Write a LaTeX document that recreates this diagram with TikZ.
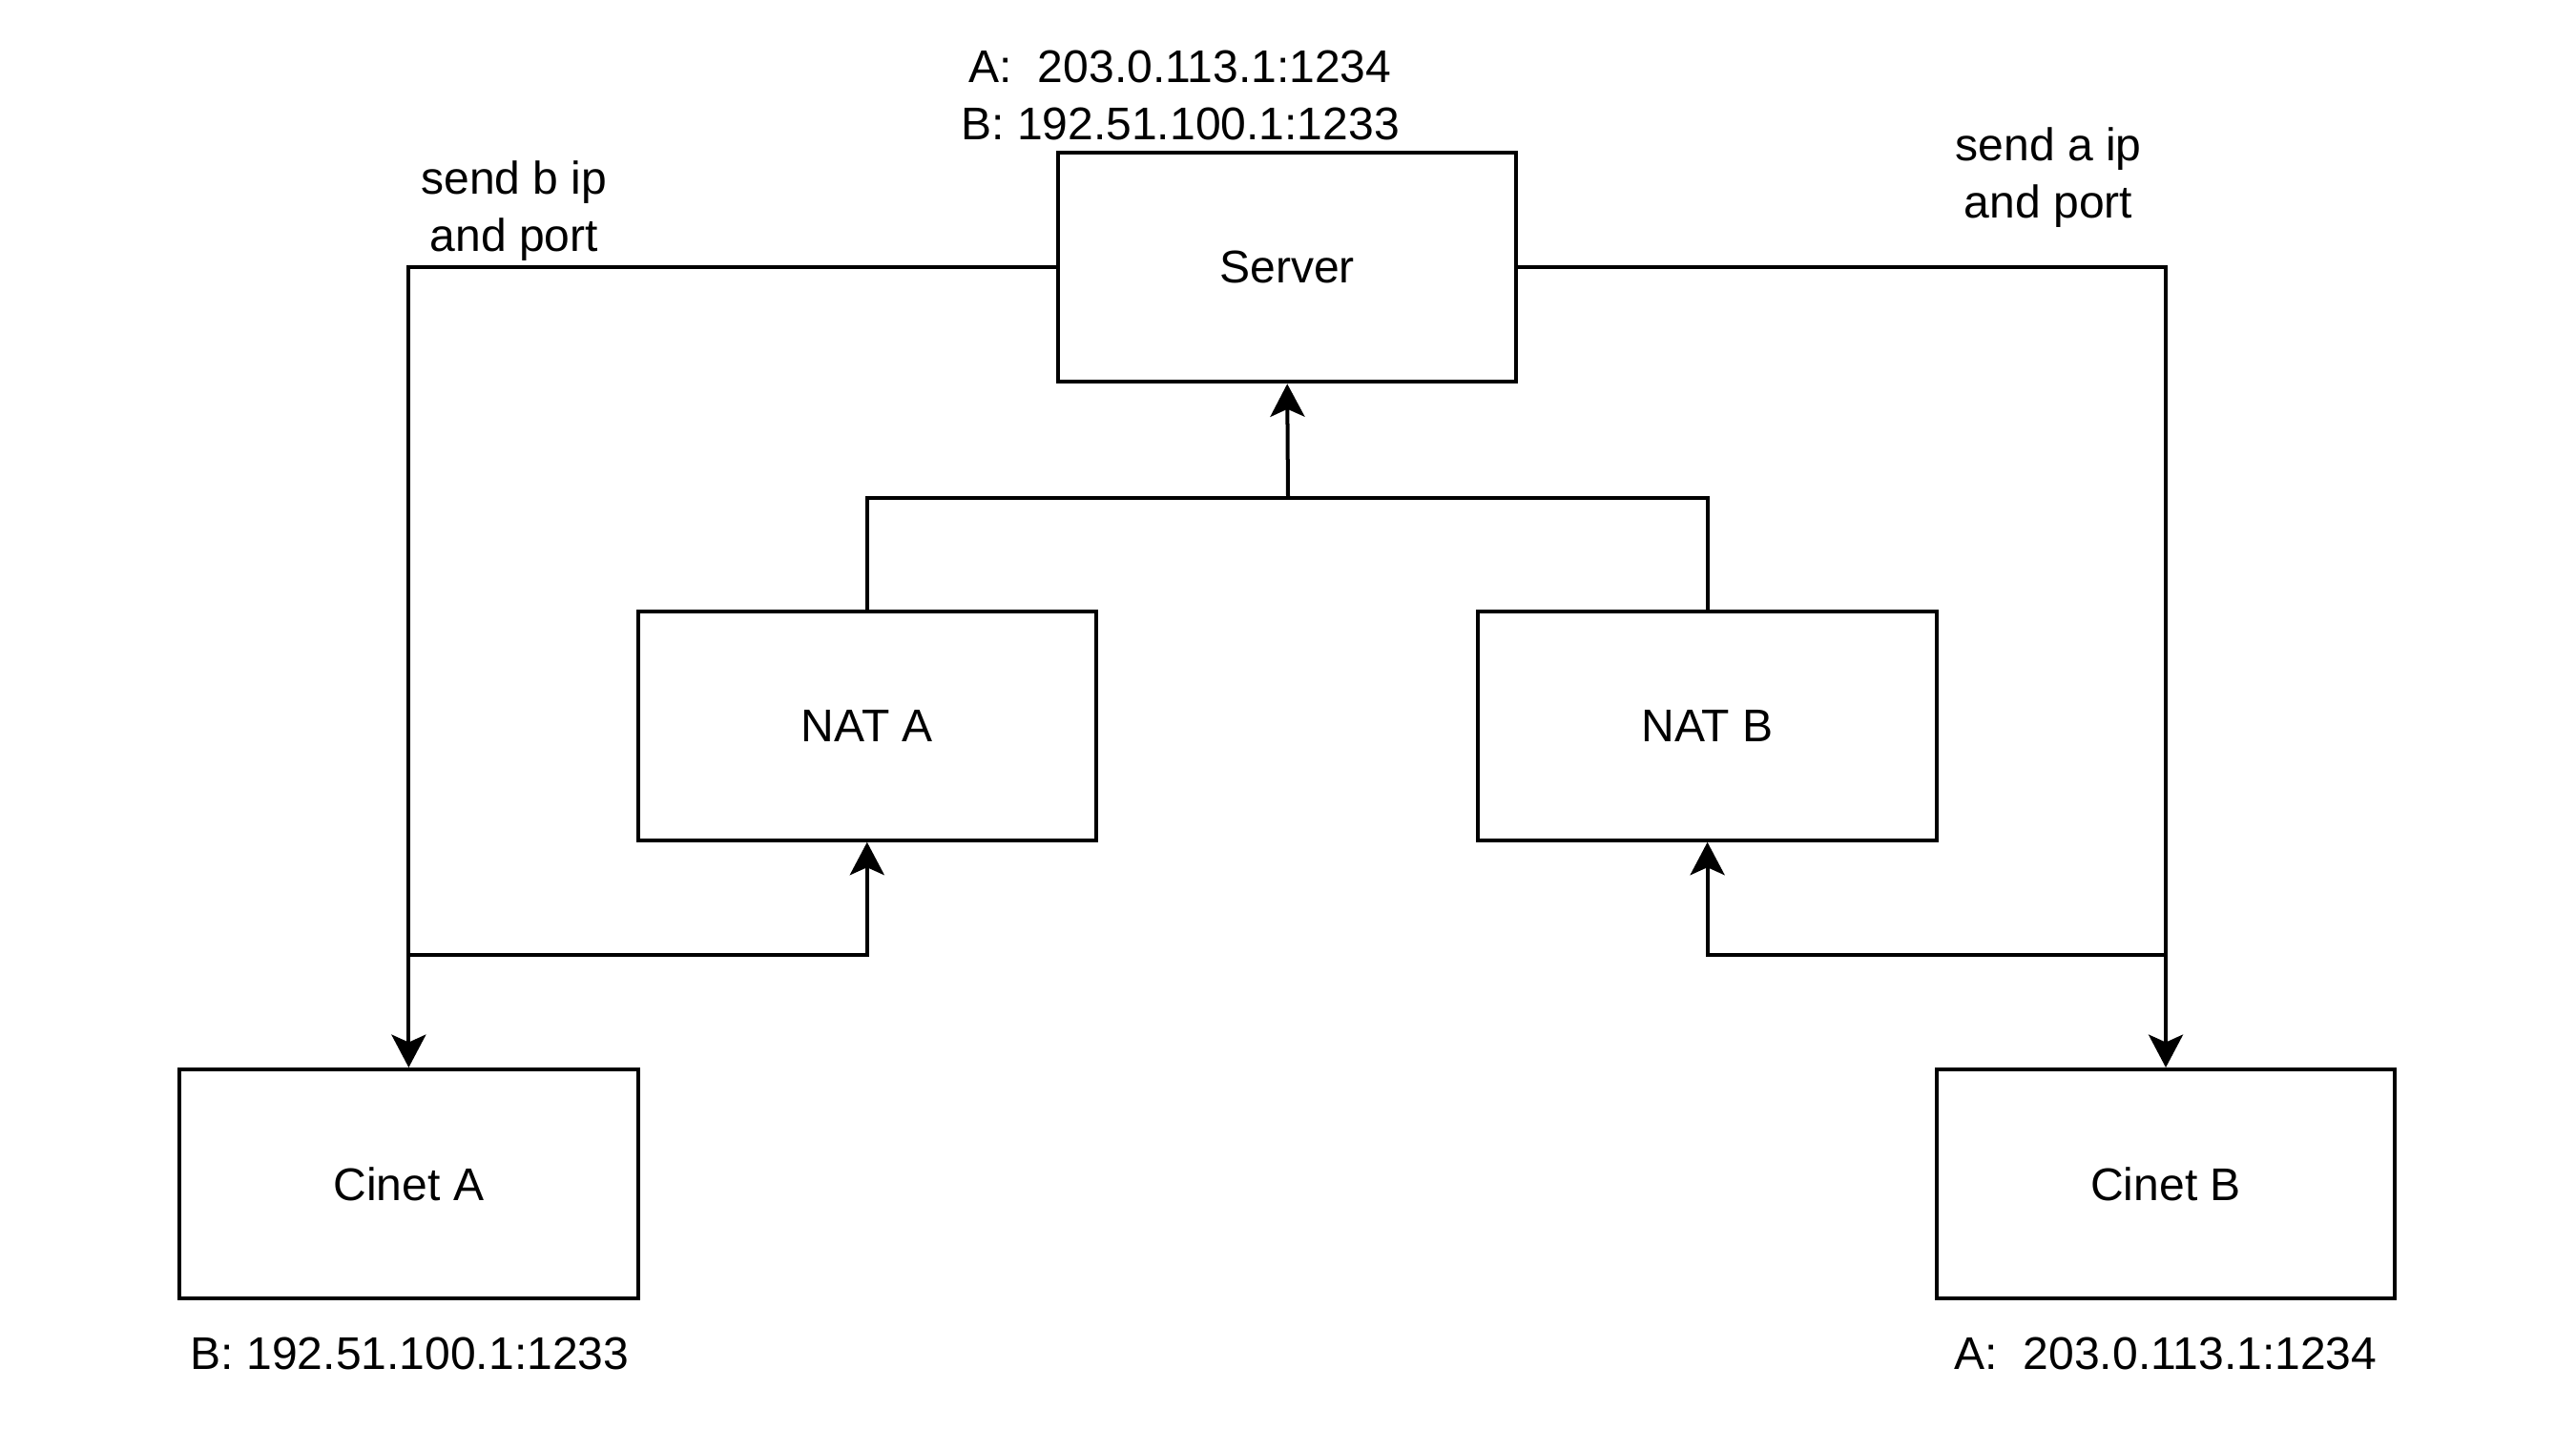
\documentclass[tikz,border=0pt]{standalone}
\usepackage{fontspec}
\setmainfont{Liberation Sans}
\usetikzlibrary{arrows.meta}

\begin{document}
\begin{tikzpicture}[x=1pt, y=-1pt, line width=1pt, font=\fontsize{12}{15}\selectfont,
	box/.style={draw, minimum width=120pt, minimum height=60pt, inner sep=0pt},
	link/.style={-{Stealth[length=8.6pt, width=9pt, inset=2pt]}}]
	\useasboundingbox (0,0) rectangle (674.4,379.9);
	% boxes
	\node[box] (server) at (337,70) {Server};
	\node[box] (nata) at (227,190) {NAT A};
	\node[box] (natb) at (447,190) {NAT B};
	\node[box] (cineta) at (107,310) {Cinet A};
	\node[box] (cinetb) at (567,310) {Cinet B};
	% texts
	\node[align=center] (srvaddr) at (309,25) {A:\ \ 203.0.113.1:1234\\B: 192.51.100.1:1233};
	\node[align=center] (sendb) at (134.6,55.3) {send b ip\\and port};
	\node[align=center] (senda) at (536.3,46.5) {send a ip\\and port};
	\node (addrb) at (107.3,354.4) {B: 192.51.100.1:1233};
	\node (addra) at (567,354.4) {A:\ \ 203.0.113.1:1234};
	% junctions
	\coordinate (top) at (337.2,130.3);
	\coordinate (ja) at (107,250);
	\coordinate (jb) at (567,250);
	% connectors
	\draw (nata.north) |- (top);
	\draw (natb.north) |- (top);
	\draw[link] (top) -- (server.south);
	\draw[link] (server.west) -| (cineta.north);
	\draw[link] (server.east) -| (cinetb.north);
	\draw[link] (ja) -| (nata.south);
	\draw[link] (jb) -| (natb.south);
\end{tikzpicture}
\end{document}
